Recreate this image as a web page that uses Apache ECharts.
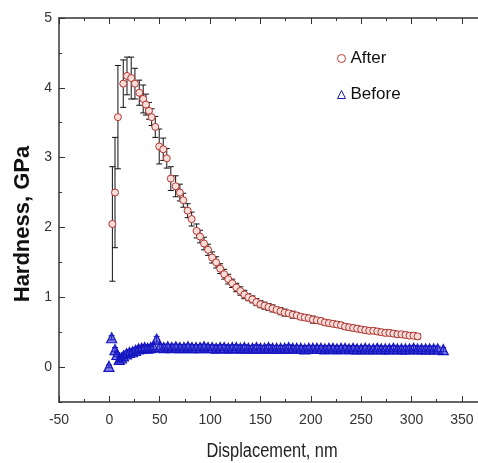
<!DOCTYPE html>
<html>
<head>
<meta charset="utf-8">
<script src="https://cdn.jsdelivr.net/npm/echarts@6.0.0/dist/echarts.min.js"></script>
<style>
  html, body { margin: 0; padding: 0; background: #fff; }
  #chart { width: 478px; height: 463px; }
</style>
</head>
<body>
<div id="chart"></div>
<script>
// 硬度数据
const afterX = [3, 5.6, 8.5, 13.8, 17.5, 21.7, 25.4, 29.7, 33.6, 36.3,
  39.3, 42, 45.6, 49.5, 53.5, 57, 61, 65.8, 70, 73.4,
  77.7, 81.7, 86.6, 90,
  94, 98, 102, 106, 110, 114, 118, 122, 126, 130,
  134, 138, 142, 146, 150, 154, 158, 162, 166, 170,
  174, 178, 182, 186, 190, 194, 198, 202, 206, 210,
  214, 218, 222, 226, 230, 234, 238, 242, 246, 250,
  254, 258, 262, 266, 270, 274, 278, 282, 286, 290,
  294, 298, 302, 306]
const afterY = [2.05, 2.50, 3.58, 4.06, 4.17, 4.14, 4.06, 3.93, 3.84, 3.76,
  3.67, 3.58, 3.44, 3.16, 3.12, 2.99, 2.70, 2.59, 2.50, 2.39,
  2.24, 2.12, 1.95, 1.87,
  1.77, 1.68, 1.57, 1.50, 1.41, 1.33, 1.26, 1.20, 1.14, 1.09,
  1.04, 1.00, 0.97, 0.93, 0.90, 0.88, 0.86, 0.84, 0.82, 0.80,
  0.78, 0.77, 0.75, 0.74, 0.72, 0.71, 0.70, 0.68, 0.67, 0.66,
  0.64, 0.63, 0.62, 0.61, 0.60, 0.58, 0.57, 0.56, 0.55, 0.54,
  0.53, 0.52, 0.52, 0.51, 0.50, 0.49, 0.49, 0.48, 0.47, 0.47,
  0.46, 0.45, 0.45, 0.44]
const afterErr = [0.82, 0.79, 0.74, 0.34, 0.27, 0.30, 0.22, 0.18, 0.20, 0.15,
  0.12, 0.12, 0.15, 0.25, 0.16, 0.14, 0.17, 0.15, 0.12, 0.10,
  0.10, 0.10, 0.10, 0.09,
  0.09, 0.08, 0.08, 0.08, 0.07, 0.07, 0.07, 0.06, 0.06, 0.06,
  0.06, 0.05, 0.05, 0.05, 0.05, 0.05, 0.05, 0.05, 0.04, 0.05,
  0.05, 0.04, 0.05, 0.04, 0.04, 0.04, 0.04, 0.05, 0.04, 0.04,
  0.04, 0.04, 0.04, 0.04, 0.04, 0.04, 0.04, 0.04, 0.04, 0.04,
  0.04, 0.04, 0.04, 0.04, 0.04, 0.04, 0.04, 0.04, 0.04, 0.04,
  0.04, 0.04, 0.04, 0.04]

const beforeX = [-0.4, 2.3, 5.6, 7.5, 9.8, 12, 14, 17, 20, 23, 26, 29, 32, 35, 38, 41, 44, 47,
  50, 54, 58, 62, 66, 70, 74, 78, 82, 86,
  90, 94, 98, 102, 106, 110, 114, 118, 122, 126,
  130, 134, 138, 142, 146, 150, 154, 158, 162, 166,
  170, 174, 178, 182, 186, 190, 194, 198, 202, 206,
  210, 214, 218, 222, 226, 230, 234, 238, 242, 246,
  250, 254, 258, 262, 266, 270, 274, 278, 282, 286,
  290, 294, 298, 302, 306, 310, 314, 318, 322, 326,
  331.5]
const beforeY = [0.01, 0.42, 0.25, 0.18, 0.11, 0.13, 0.16, 0.19, 0.21, 0.22, 0.24, 0.26, 0.27, 0.28, 0.27, 0.28, 0.29, 0.40,
  0.29, 0.28, 0.29, 0.28, 0.29, 0.28, 0.28, 0.29, 0.28, 0.28,
  0.28, 0.29, 0.28, 0.28, 0.27, 0.28, 0.28, 0.27, 0.28, 0.28,
  0.27, 0.28, 0.27, 0.27, 0.28, 0.27, 0.27, 0.28, 0.27, 0.27,
  0.27, 0.27, 0.28, 0.27, 0.27, 0.27, 0.26, 0.27, 0.27, 0.27,
  0.27, 0.26, 0.27, 0.27, 0.26, 0.27, 0.27, 0.26, 0.27, 0.26,
  0.26, 0.27, 0.26, 0.26, 0.27, 0.26, 0.26, 0.26, 0.27, 0.26,
  0.26, 0.26, 0.26, 0.27, 0.26, 0.26, 0.26, 0.26, 0.26, 0.26,
  0.25]
const beforeErr = [0.02, 0.03, 0.03, 0.03, 0.03, 0.03, 0.04, 0.04, 0.04, 0.04, 0.04, 0.04, 0.04, 0.04, 0.04, 0.04, 0.04, 0.04,
  0.04, 0.04, 0.04, 0.04, 0.04, 0.04, 0.04, 0.04, 0.04, 0.04,
  0.04, 0.04, 0.04, 0.04, 0.04, 0.04, 0.04, 0.04, 0.04, 0.04,
  0.04, 0.04, 0.04, 0.04, 0.04, 0.04, 0.04, 0.04, 0.04, 0.04,
  0.04, 0.04, 0.04, 0.04, 0.04, 0.04, 0.04, 0.04, 0.04, 0.04,
  0.04, 0.04, 0.04, 0.04, 0.04, 0.04, 0.04, 0.04, 0.04, 0.04,
  0.04, 0.04, 0.04, 0.04, 0.04, 0.04, 0.04, 0.04, 0.04, 0.04,
  0.04, 0.04, 0.04, 0.04, 0.04, 0.04, 0.04, 0.04, 0.04, 0.04,
  0.03]

const sans = "'Liberation Sans', Arial, sans-serif"
const axisColor = '#333'

// 误差棒 custom series
function errorBarSeries(xs, ys, es, color) {
  return {
    type: 'custom',
    silent: true,
    z: 1,
    encode: { x: 0, y: [1, 2] },
    data: xs.map((x, i) => [x, ys[i] - es[i], ys[i] + es[i]]),
    renderItem: function (params, api) {
      const top = api.coord([api.value(0), api.value(2)])
      const bot = api.coord([api.value(0), api.value(1)])
      const w = 3
      const style = { stroke: color, lineWidth: 1 }
      return {
        type: 'group',
        children: [
          { type: 'line', shape: { x1: top[0], y1: top[1], x2: bot[0], y2: bot[1] }, style: style },
          { type: 'line', shape: { x1: top[0] - w, y1: top[1], x2: top[0] + w, y2: top[1] }, style: style },
          { type: 'line', shape: { x1: bot[0] - w, y1: bot[1], x2: bot[0] + w, y2: bot[1] }, style: style }
        ]
      }
    }
  }
}

// major + minor tick axes (minor drawn by a second, silent axis)
function xAxisPair(pos) {
  const base = {
    type: 'value', min: -50, max: 366, position: pos,
    splitLine: { show: false },
    axisLine: { show: true, onZero: false, lineStyle: { color: axisColor, width: 1.5 } }
  }
  return [
    Object.assign({}, base, {
      interval: 50,
      axisTick: { inside: true, length: 6, lineStyle: { color: axisColor } },
      axisLabel: pos === 'bottom'
        ? { show: true, showMaxLabel: false, margin: 11, fontSize: 14, fontFamily: sans, color: axisColor }
        : { show: false }
    }),
    Object.assign({}, base, {
      interval: 25,
      axisLine: { show: false, onZero: false },
      axisTick: { inside: true, length: 3, lineStyle: { color: axisColor } },
      axisLabel: { show: false }
    })
  ]
}

const option = {
  backgroundColor: '#fff',
  animation: false,
  grid: { left: 59, right: 0, top: 18, bottom: 61 },
  legend: {
    orient: 'vertical',
    left: 332,
    top: 45,
    itemGap: 19,
    itemWidth: 8,
    itemHeight: 8,
    data: [
      { name: 'After', itemStyle: { color: '#fff', borderColor: '#c0392b', borderWidth: 1 } },
      { name: 'Before', itemStyle: { color: '#fff', borderColor: '#1818b8', borderWidth: 1 } }
    ],
    textStyle: { fontSize: 17, fontFamily: sans, color: '#111' }
  },
  xAxis: xAxisPair('bottom').concat(xAxisPair('top')),
  yAxis: [
    {
      type: 'value', min: -0.5, max: 5, splitNumber: 5, position: 'left',
      splitLine: { show: false },
      axisLine: { show: true, onZero: false, lineStyle: { color: axisColor, width: 1.5 } },
      axisTick: { inside: true, length: 6, lineStyle: { color: axisColor } },
      axisLabel: { showMinLabel: false, margin: 7, fontSize: 14, fontFamily: sans, color: axisColor }
    },
    {
      type: 'value', min: -0.5, max: 5, interval: 0.5, position: 'left', offset: 0,
      splitLine: { show: false },
      axisLine: { show: false, onZero: false },
      axisTick: { inside: true, length: 3, lineStyle: { color: axisColor } },
      axisLabel: { show: false }
    }
  ],
  graphic: [
    {
      type: 'text', x: 23, y: 224, rotation: Math.PI / 2,
      style: {
        text: 'Hardness, GPa', fontSize: 22, fontWeight: 'bold',
        fontFamily: sans, fill: '#111',
        align: 'center', verticalAlign: 'middle'
      }
    },
    {
      type: 'text', x: 272, y: 451, scaleX: 0.82,
      style: {
        text: 'Displacement, nm', fontSize: 20, fontFamily: sans, fill: '#222',
        align: 'center', verticalAlign: 'middle'
      }
    }
  ],
  series: [
    errorBarSeries(afterX, afterY, afterErr, '#111'),
    errorBarSeries(beforeX, beforeY, beforeErr, '#1414c0'),
    {
      name: 'After',
      type: 'scatter',
      z: 3,
      symbol: 'circle',
      symbolSize: 7,
      itemStyle: { color: '#f7dedb', borderColor: '#b5342e', borderWidth: 1, opacity: 1 },
      data: afterX.map((x, i) => [x, afterY[i]])
    },
    {
      name: 'Before',
      type: 'scatter',
      z: 3,
      symbol: 'triangle',
      symbolSize: 10,
      itemStyle: { color: 'rgba(30,30,200,0.55)', borderColor: '#1414c0', borderWidth: 1.2, opacity: 1 },
      data: beforeX.map((x, i) => [x, beforeY[i]])
    }
  ]
}

const chart = echarts.init(document.getElementById('chart'), null, { renderer: 'canvas' })
chart.setOption(option)
</script>
</body>
</html>
